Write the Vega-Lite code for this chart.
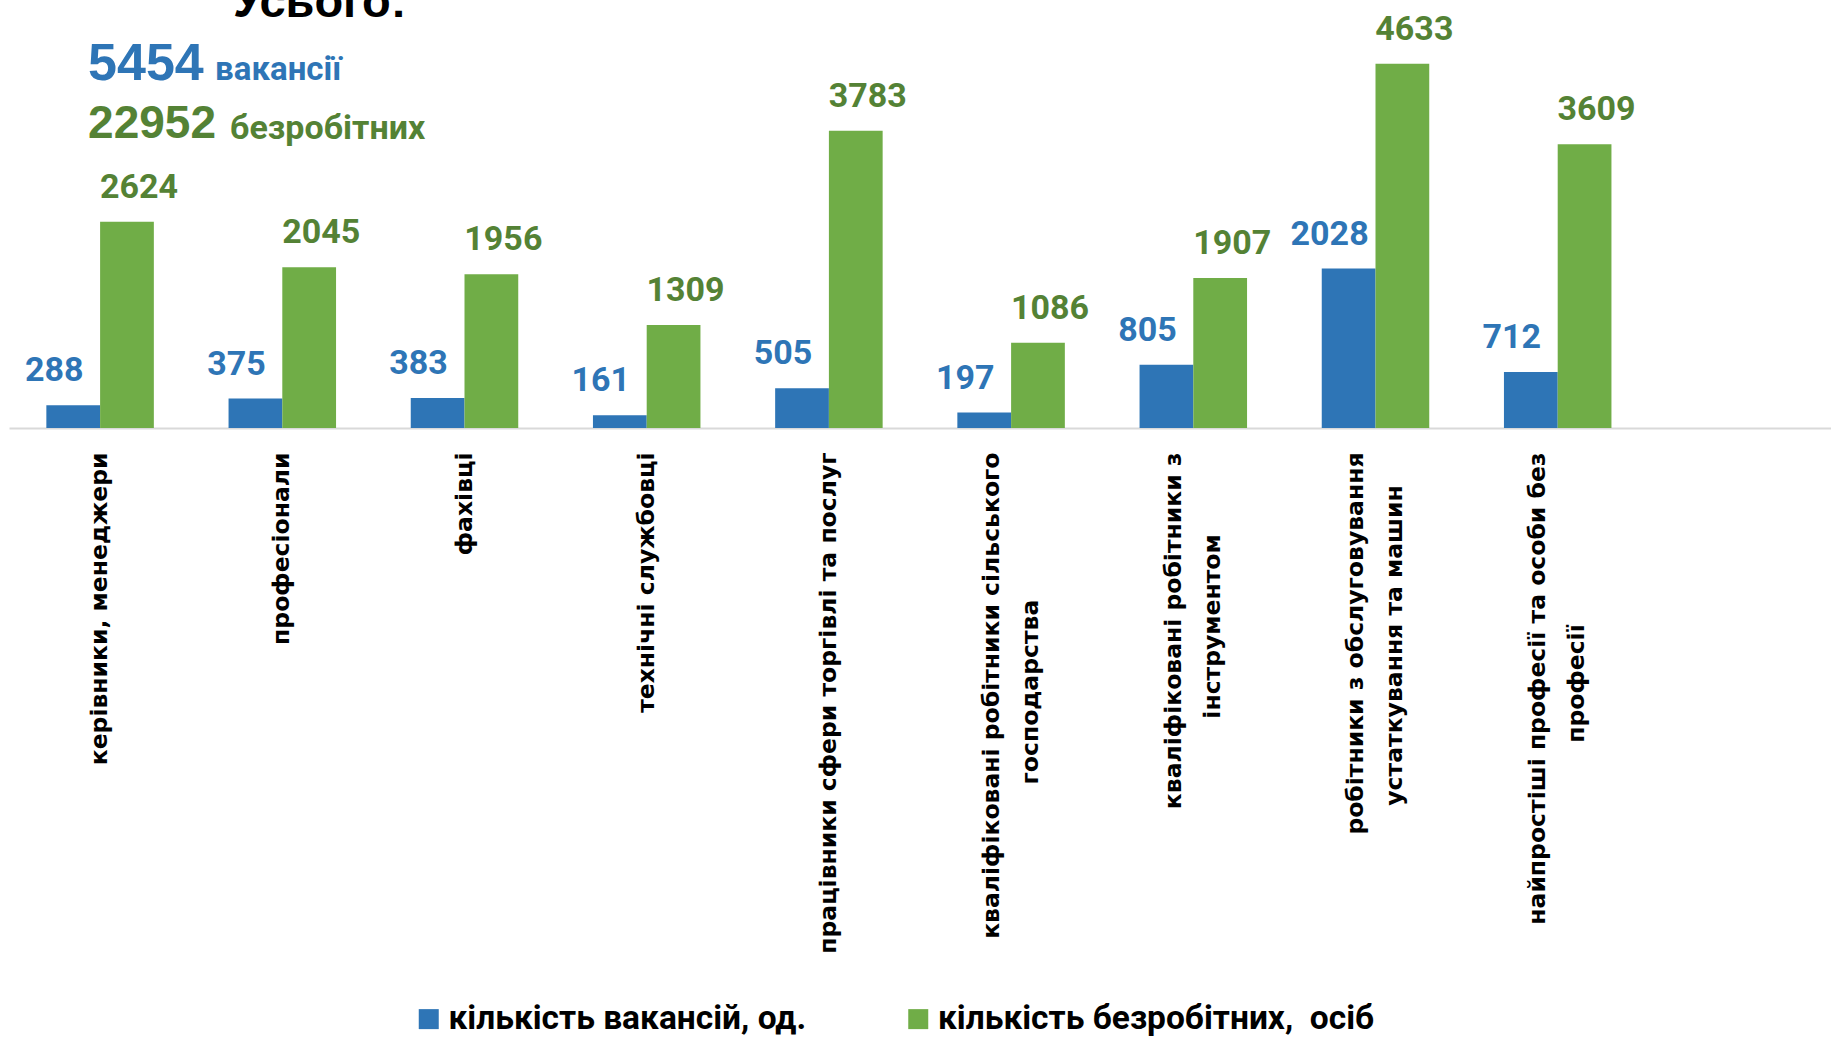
{
  "$schema": "https://vega.github.io/schema/vega-lite/v6.json",
  "autosize": "none",
  "width": 1822,
  "height": 393,
  "padding": {"left": 9, "top": 35, "right": 0, "bottom": 609},
  "background": "white",
  "config": {"view": {"stroke": null}},
  "data": {
    "values": [
      {"category": "керівники, менеджери", "series": "кількість вакансій, од.", "value": 288},
      {"category": "керівники, менеджери", "series": "кількість безробітних, \u00a0осіб", "value": 2624},
      {"category": "професіонали", "series": "кількість вакансій, од.", "value": 375},
      {"category": "професіонали", "series": "кількість безробітних, \u00a0осіб", "value": 2045},
      {"category": "фахівці", "series": "кількість вакансій, од.", "value": 383},
      {"category": "фахівці", "series": "кількість безробітних, \u00a0осіб", "value": 1956},
      {"category": "технічні службовці", "series": "кількість вакансій, од.", "value": 161},
      {"category": "технічні службовці", "series": "кількість безробітних, \u00a0осіб", "value": 1309},
      {"category": "працівники сфери торгівлі та послуг", "series": "кількість вакансій, од.", "value": 505},
      {"category": "працівники сфери торгівлі та послуг", "series": "кількість безробітних, \u00a0осіб", "value": 3783},
      {"category": "кваліфіковані робітники сільського господарства", "series": "кількість вакансій, од.", "value": 197},
      {"category": "кваліфіковані робітники сільського господарства", "series": "кількість безробітних, \u00a0осіб", "value": 1086},
      {"category": "кваліфіковані робітники з інструментом", "series": "кількість вакансій, од.", "value": 805},
      {"category": "кваліфіковані робітники з інструментом", "series": "кількість безробітних, \u00a0осіб", "value": 1907},
      {"category": "робітники з обслуговування устаткування та машин", "series": "кількість вакансій, од.", "value": 2028},
      {"category": "робітники з обслуговування устаткування та машин", "series": "кількість безробітних, \u00a0осіб", "value": 4633},
      {"category": "найпростіші професії та особи без професії", "series": "кількість вакансій, од.", "value": 712},
      {"category": "найпростіші професії та особи без професії", "series": "кількість безробітних, \u00a0осіб", "value": 3609}
    ]
  },
  "layer": [
    {
      "mark": {"type": "bar"},
      "encoding": {
        "x": {
          "field": "category",
          "type": "nominal",
          "sort": null,
          "scale": {
            "domain": [
              "керівники, менеджери",
              "професіонали",
              "фахівці",
              "технічні службовці",
              "працівники сфери торгівлі та послуг",
              "кваліфіковані робітники сільського господарства",
              "кваліфіковані робітники з інструментом",
              "робітники з обслуговування устаткування та машин",
              "найпростіші професії та особи без професії",
              " "
            ],
            "paddingInner": 0.41,
            "paddingOuter": 0.205
          },
          "axis": {
            "title": null,
            "labelAngle": 270,
            "labelFont": "DejaVu Sans",
            "labelFontWeight": "bold",
            "labelFontSize": 23.5,
            "labelColor": "black",
            "labelPadding": 24,
            "labelLimit": 800,
            "labelOverlap": false,
            "labelBound": false,
            "labelLineHeight": 39,
            "labelOffset": {"condition": {"test": "length(datum.value) > 36", "value": -19.5}, "value": 0},
            "ticks": false,
            "grid": false,
            "domainColor": "#D9D9D9",
            "domainWidth": 2,
            "labelExpr": "datum.label == 'кваліфіковані робітники сільського господарства' ? ['кваліфіковані робітники сільського', 'господарства\u00a0\u00a0\u00a0\u00a0\u00a0\u00a0\u00a0\u00a0\u00a0\u00a0\u00a0\u00a0\u00a0\u00a0\u00a0\u00a0\u00a0\u00a0\u200b'] : datum.label == 'кваліфіковані робітники з інструментом' ? ['кваліфіковані робітники з', 'інструментом\u00a0\u00a0\u00a0\u00a0\u00a0\u00a0\u00a0\u00a0\u00a0\u00a0\u200b'] : datum.label == 'робітники з обслуговування устаткування та машин' ? ['робітники з обслуговування', 'устаткування та машин\u00a0\u00a0\u00a0\u00a0\u200b'] : datum.label == 'найпростіші професії та особи без професії' ? ['найпростіші професії та особи без', 'професії\u00a0\u00a0\u00a0\u00a0\u00a0\u00a0\u00a0\u00a0\u00a0\u00a0\u00a0\u00a0\u00a0\u00a0\u00a0\u00a0\u00a0\u00a0\u00a0\u00a0\u00a0\u200b'] : datum.label"
          }
        },
        "y": {
          "field": "value",
          "type": "quantitative",
          "scale": {"domain": [0, 5000], "nice": false, "zero": true},
          "axis": null
        },
        "xOffset": {
          "field": "series",
          "type": "nominal",
          "scale": {"domain": ["кількість вакансій, од.", "кількість безробітних, \u00a0осіб"], "paddingInner": 0, "paddingOuter": 0}
        },
        "color": {
          "field": "series",
          "type": "nominal",
          "scale": {"domain": ["кількість вакансій, од.", "кількість безробітних, \u00a0осіб"], "range": ["#2E75B6", "#70AD47"]},
          "legend": {
            "orient": "none",
            "legendX": 403,
            "legendY": 967,
            "direction": "horizontal",
            "title": null,
            "symbolType": "square",
            "symbolSize": 400,
            "symbolStrokeWidth": 0,
            "labelFont": "Roboto",
            "labelFontWeight": "bold",
            "labelFontSize": 33.5,
            "labelColor": "black",
            "labelOffset": 3,
            "columnPadding": 94.5,
            "labelLimit": 800
          }
        }
      }
    },
    {
      "transform": [{"filter": "datum.series == 'кількість вакансій, од.'"}],
      "mark": {"type": "text", "dx": -19, "dy": -34, "baseline": "middle", "align": "center", "font": "Roboto", "fontWeight": "bold", "fontSize": 34, "color": "#2E75B6"},
      "encoding": {
        "x": {"field": "category", "type": "nominal", "sort": null},
        "y": {"field": "value", "type": "quantitative", "axis": null},
        "xOffset": {
          "field": "series",
          "type": "nominal",
          "scale": {"domain": ["кількість вакансій, од.", "кількість безробітних, \u00a0осіб"], "paddingInner": 0, "paddingOuter": 0}
        },
        "text": {"field": "value", "type": "quantitative"}
      }
    },
    {
      "transform": [{"filter": "datum.series != 'кількість вакансій, од.'"}],
      "mark": {"type": "text", "dx": 12, "dy": -34, "baseline": "middle", "align": "center", "font": "Roboto", "fontWeight": "bold", "fontSize": 34, "color": "#548235"},
      "encoding": {
        "x": {"field": "category", "type": "nominal", "sort": null},
        "y": {"field": "value", "type": "quantitative", "axis": null},
        "xOffset": {
          "field": "series",
          "type": "nominal",
          "scale": {"domain": ["кількість вакансій, од.", "кількість безробітних, \u00a0осіб"], "paddingInner": 0, "paddingOuter": 0}
        },
        "text": {"field": "value", "type": "quantitative"}
      }
    },
    {
      "data": {"values": [{"heading": "Усього:"}]},
      "mark": {"type": "text", "align": "left", "baseline": "alphabetic", "dx": 133, "font": "Liberation Sans", "fontWeight": "bold", "fontSize": 47, "color": "black"},
      "encoding": {
        "x": {"datum": "керівники, менеджери", "bandPosition": 0.5},
        "y": {"datum": 5229, "axis": null},
        "text": {"field": "heading"}
      }
    },
    {
      "data": {"values": [{"total": "5454"}]},
      "mark": {"type": "text", "align": "left", "baseline": "alphabetic", "dx": -12, "font": "Liberation Sans", "fontWeight": "bold", "fontSize": 52, "color": "#2E75B6"},
      "encoding": {
        "x": {"datum": "керівники, менеджери", "bandPosition": 0.5},
        "y": {"datum": 4430, "axis": null},
        "text": {"field": "total"}
      }
    },
    {
      "data": {"values": [{"unit": "вакансії"}]},
      "mark": {"type": "text", "align": "left", "baseline": "alphabetic", "dx": 115, "font": "Roboto", "fontWeight": "bold", "fontSize": 33, "color": "#2E75B6"},
      "encoding": {
        "x": {"datum": "керівники, менеджери", "bandPosition": 0.5},
        "y": {"datum": 4425, "axis": null},
        "text": {"field": "unit"}
      }
    },
    {
      "data": {"values": [{"total": "22952"}]},
      "mark": {"type": "text", "align": "left", "baseline": "alphabetic", "dx": -12, "font": "Liberation Sans", "fontWeight": "bold", "fontSize": 46, "color": "#548235"},
      "encoding": {
        "x": {"datum": "керівники, менеджери", "bandPosition": 0.5},
        "y": {"datum": 3685, "axis": null},
        "text": {"field": "total"}
      }
    },
    {
      "data": {"values": [{"unit": "безробітних"}]},
      "mark": {"type": "text", "align": "left", "baseline": "alphabetic", "dx": 130, "font": "Roboto", "fontWeight": "bold", "fontSize": 34, "color": "#548235"},
      "encoding": {
        "x": {"datum": "керівники, менеджери", "bandPosition": 0.5},
        "y": {"datum": 3680, "axis": null},
        "text": {"field": "unit"}
      }
    }
  ]
}
